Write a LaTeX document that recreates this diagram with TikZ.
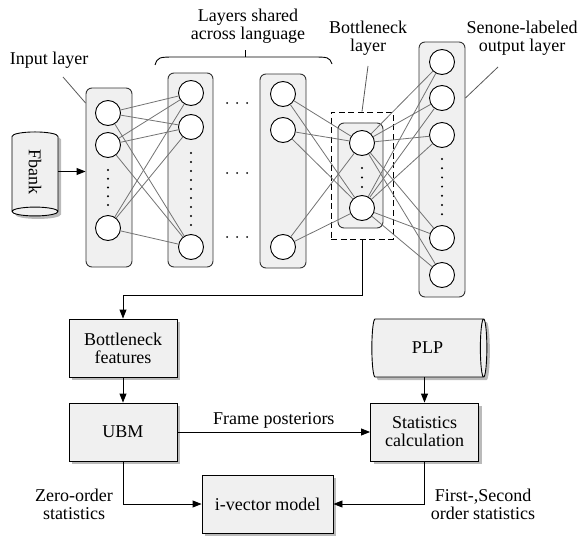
\documentclass[tikz,border=0pt]{standalone}
\usepackage{fontspec}
\setmainfont{Liberation Serif}
\usetikzlibrary{shapes.geometric,arrows.meta,shadows}

\tikzset{
	layerbox/.style={draw=black!80, fill=black!6, rounded corners=6pt, line width=0.9pt, inner sep=0pt},
	neuron/.style={circle, draw, fill=white, minimum size=25pt, inner sep=0pt, line width=0.9pt},
	link/.style={draw=black!55, line width=0.8pt},
	pointer/.style={draw=black!65, line width=0.8pt},
	softshadow/.style={drop shadow={opacity=0.45, fill=black!60, shadow xshift=3pt, shadow yshift=-3pt}},
	procbox/.style={draw, fill=black!6, line width=0.9pt, minimum width=108pt, minimum height=58pt,
		align=center, softshadow},
	datacyl/.style={cylinder, draw, fill=black!6, line width=0.9pt, inner sep=0pt, softshadow},
	arr/.style={-{Triangle[length=9pt,width=7pt]}, line width=0.9pt},
	dot/.style={fill=black, circle, inner sep=0pt, minimum size=2.2pt},
}

\begin{document}
\begin{tikzpicture}[x=1pt, y=-1pt, font=\fontsize{18}{20}\selectfont]
	\useasboundingbox (0,0) rectangle (580,535);

	% layer boxes
	\node [layerbox, minimum width=46pt, minimum height=179pt] (inbox) at (109,177.5) {};
	\node [layerbox, minimum width=45pt, minimum height=194pt] (shbox) at (190.5,170) {};
	\node [layerbox, minimum width=46pt, minimum height=194pt] (lastbox) at (283,171) {};
	\node [layerbox, minimum width=45pt, minimum height=105pt] (bnbox) at (360.5,175.5) {};
	\node [layerbox, minimum width=46pt, minimum height=255pt] (outbox) at (442,169.5) {};
	\node [draw, dashed, dash pattern=on 6pt off 3.5pt, line width=0.9pt, minimum width=62pt, minimum height=127pt, inner sep=0pt] (bnframe) at (362,175.5) {};

	% neurons
	\node [neuron] (in1) at (108,113) {};
	\node [neuron] (in2) at (108,145) {};
	\node [neuron] (in3) at (108,228) {};
	\node [neuron] (sh1) at (191,93) {};
	\node [neuron] (sh2) at (191,127) {};
	\node [neuron] (sh3) at (191,247) {};
	\node [neuron] (la1) at (283,94) {};
	\node [neuron] (la2) at (283,130) {};
	\node [neuron] (la3) at (283,247) {};
	\node [neuron] (bn1) at (362,143) {};
	\node [neuron] (bn2) at (362,208) {};
	\node [neuron] (out1) at (442,62) {};
	\node [neuron] (out2) at (442,98) {};
	\node [neuron] (out3) at (442,135) {};
	\node [neuron] (out4) at (442,238) {};
	\node [neuron] (out5) at (442,275) {};

	% links
	\foreach \a in {1,2,3}
		\foreach \b in {1,2,3}
			\draw [link] (in\a) -- (sh\b);
	\foreach \a in {1,2,3}
		\foreach \b in {1,2}
			\draw [link] (la\a) -- (bn\b);
	\foreach \a in {1,2}
		\foreach \b in {1,...,5}
			\draw [link] (bn\a) -- (out\b);

	% vertical dots
	\foreach \y in {170,178.75,...,206} \node [dot] at (108,\y) {};
	\foreach \y in {153,162,...,226} \node [dot] at (191,\y) {};
	\foreach \y in {168,177.5,...,188} \node [dot] at (362,\y) {};
	\foreach \y in {159,168.2,...,215} \node [dot] at (442,\y) {};
	% horizontal dots
	\foreach \y in {103,173,237}
		\foreach \x in {227,237,247} \node [dot, minimum size=2pt] at (\x,\y) {};

	% labels above the network
	\node (inlabel) at (49,60) {Input layer};
	\node [align=center] (shlabel) at (248,26) {Layers shared\\[-2pt]across language};
	\node [align=center] (bnlabel) at (368,38) {Bottleneck\\[-2pt]layer};
	\node [align=center] (outlabel) at (522,38) {Senone-labeled\\[-2pt]output layer};
	\draw [pointer] (63,77) -- (inbox.west |- 0,103);
	\draw [pointer] (368,66) -- (bnframe.north);
	\draw [pointer] (498,67) -- (outbox.east |- 0,98);
	\draw [line width=0.9pt] (155,65) .. controls (158,57) .. (178,57) -- (310,57) .. controls (329,57) .. (332,64);
	\draw [line width=0.9pt] (245,57) -- (245,50);

	% Fbank input
	\node [datacyl, rotate=-90, minimum width=46pt, minimum height=84pt, aspect=0.7] (fbank) at (35,171.5) {Fbank};
	\draw [arr] (fbank.north) -- (inbox.west |- fbank.north);

	% i-vector part
	\node [procbox] (bnfeat) at (123,348) {Bottleneck\\[-2pt]features};
	\node [procbox] (ubm) at (123,432) {UBM};
	\node [procbox] (stats) at (424.5,432) {Statistics\\[-2pt]calculation};
	\node [procbox, minimum width=131pt] (ivec) at (267.5,504) {i-vector model};
	\node [datacyl, minimum width=58pt, minimum height=115pt, aspect=0.55] (plp) at (427.5,348) {PLP};

	\draw [arr] (bnframe.south) -- ++(0,56) -| (bnfeat.north);
	\draw [arr] (bnfeat) -- (ubm);
	\draw [arr] (plp.south -| stats.north) -- (stats.north);
	\draw [arr] (ubm) -- node [above, pos=0.5] (fplabel) {Frame posteriors} (stats);
	\draw [arr] (ubm.south) |- (ivec.west);
	\draw [arr] (stats.south) |- (ivec.east);
	\node [align=center] (zerolabel) at (74,504) {Zero-order\\[-2pt]statistics};
	\node [align=center] (firstlabel) at (483,504) {First-,Second\\[-2pt]order statistics};
\end{tikzpicture}
\end{document}
